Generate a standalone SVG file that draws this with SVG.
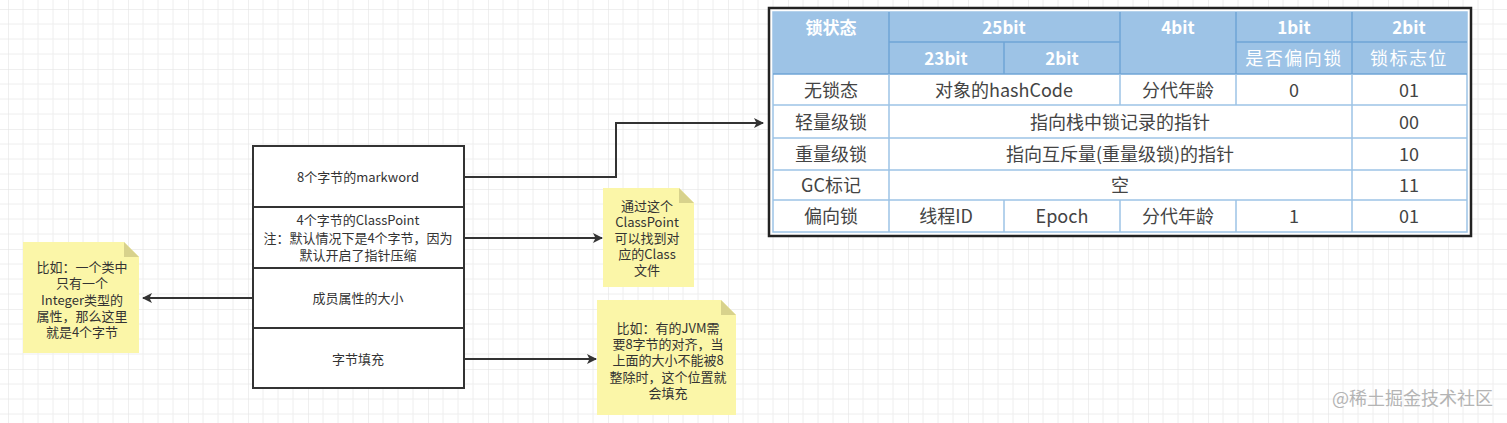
<svg xmlns="http://www.w3.org/2000/svg" width="1507" height="423" viewBox="0 0 1507 423">
<style>
.box{fill:#fff;stroke:#333;stroke-width:2}
.t{font-family:"Noto Sans CJK SC","Liberation Sans",sans-serif;fill:#333;text-anchor:middle}
.s13{font-size:13px}
.note{fill:#fbf6a8}
.fold{fill:#d8d28c}
.con{fill:none;stroke:#333;stroke-width:2}
.hd{font-family:"Noto Sans CJK SC","Liberation Sans",sans-serif;font-size:17px;font-weight:bold;fill:#fff;text-anchor:middle}
.hs{font-family:"Noto Sans CJK SC","Liberation Sans",serif;font-size:18px;fill:#fff;text-anchor:middle;letter-spacing:1.5px}
.td{font-family:"Noto Sans CJK SC","Liberation Sans",sans-serif;font-size:18px;fill:#444;text-anchor:middle}
.cl{stroke:#9dc3e6;stroke-width:1.5}
.hl{stroke:#6fa5d6;stroke-width:1.5}
</style>
<defs>
<pattern id="grid" patternUnits="userSpaceOnUse" x="8" y="9" width="60" height="60">
<path d="M15 0V60M30 0V60M45 0V60M0 15H60M0 30H60M0 45H60" stroke="#eeeeee" stroke-width="1" fill="none"/>
<path d="M0 0V60M0 0H60" stroke="#e0e0e0" stroke-width="1" fill="none"/>
</pattern>
<marker id="arr" viewBox="0 0 10 10" refX="9" refY="5" markerWidth="5" markerHeight="5" orient="auto" markerUnits="strokeWidth">
<path d="M0 0L10 5L0 10L2.5 5Z" fill="#333"/>
</marker>
</defs>
<rect width="1507" height="423" fill="#fff"/>
<rect width="1507" height="423" fill="url(#grid)"/>

<g id="connectors">
<path class="con" d="M464 177H616V123H763" marker-end="url(#arr)"/>
<path class="con" d="M464 238H602" marker-end="url(#arr)"/>
<path class="con" d="M253 298H143" marker-end="url(#arr)"/>
<path class="con" d="M464 359H596" marker-end="url(#arr)"/>
</g>

<g id="markword">
<rect class="box" x="253" y="146" width="211" height="61"/>
<text class="t s13" x="358" y="182">8个字节的markword</text>
</g>
<g id="classpoint">
<rect class="box" x="253" y="207" width="211" height="61"/>
<text class="t s13" x="358" y="225">4个字节的ClassPoint</text>
<text class="t s13" x="358" y="243">注：默认情况下是4个字节，因为</text>
<text class="t s13" x="358" y="260">默认开启了指针压缩</text>
</g>
<g id="members">
<rect class="box" x="253" y="268" width="211" height="60"/>
<text class="t s13" x="358" y="303">成员属性的大小</text>
</g>
<g id="padding">
<rect class="box" x="253" y="328" width="211" height="60"/>
<text class="t s13" x="358" y="364">字节填充</text>
</g>

<g id="note-integer">
<path class="note" d="M23 242H124L139 257V353H23Z"/>
<path class="fold" d="M124 242L139 257H124Z"/>
<text class="t s13" x="82" y="272">比如：一个类中</text>
<text class="t s13" x="82" y="288">只有一个</text>
<text class="t s13" x="82" y="305">Integer类型的</text>
<text class="t s13" x="82" y="321">属性，那么这里</text>
<text class="t s13" x="82" y="337">就是4个字节</text>
</g>
<g id="note-classpoint">
<path class="note" d="M603 188H679L694 203V287H603Z"/>
<path class="fold" d="M679 188L694 203H679Z"/>
<text class="t s13" x="647" y="211">通过这个</text>
<text class="t s13" x="647" y="227">ClassPoint</text>
<text class="t s13" x="647" y="243">可以找到对</text>
<text class="t s13" x="647" y="259">应的Class</text>
<text class="t s13" x="647" y="275">文件</text>
</g>
<g id="note-padding">
<path class="note" d="M597 300H721L736 315V415H597Z"/>
<path class="fold" d="M721 300L736 315H721Z"/>
<text class="t s13" x="668" y="333">比如：有的JVM需</text>
<text class="t s13" x="668" y="349">要8字节的对齐，当</text>
<text class="t s13" x="668" y="365">上面的大小不能被8</text>
<text class="t s13" x="668" y="382">整除时，这个位置就</text>
<text class="t s13" x="668" y="398">会填充</text>
</g>

<g id="lock-table">
<rect x="769" y="8" width="702" height="228" fill="#fff" stroke="#222" stroke-width="2.5"/>
<rect x="773" y="12" width="694" height="62" fill="#9dc3e6"/>
<rect x="773" y="12" width="694" height="220" fill="none" stroke="#9dc3e6" stroke-width="1.5"/>
<line class="hl" x1="889" y1="42" x2="1120" y2="42"/>
<line class="hl" x1="1236" y1="42" x2="1467" y2="42"/>
<line class="hl" x1="773" y1="74" x2="1467" y2="74"/>
<line class="hl" x1="889" y1="12" x2="889" y2="74"/>
<line class="hl" x1="1004" y1="42" x2="1004" y2="74"/>
<line class="hl" x1="1120" y1="12" x2="1120" y2="74"/>
<line class="hl" x1="1236" y1="12" x2="1236" y2="74"/>
<line class="hl" x1="1352" y1="12" x2="1352" y2="74"/>
<line class="cl" x1="773" y1="105" x2="1467" y2="105"/>
<line class="cl" x1="773" y1="138" x2="1467" y2="138"/>
<line class="cl" x1="773" y1="170" x2="1467" y2="170"/>
<line class="cl" x1="773" y1="200" x2="1467" y2="200"/>
<line class="cl" x1="889" y1="74" x2="889" y2="232"/>
<line class="cl" x1="1352" y1="74" x2="1352" y2="232"/>
<line class="cl" x1="1120" y1="74" x2="1120" y2="105"/>
<line class="cl" x1="1236" y1="74" x2="1236" y2="105"/>
<line class="cl" x1="1004" y1="200" x2="1004" y2="232"/>
<line class="cl" x1="1120" y1="200" x2="1120" y2="232"/>
<line class="cl" x1="1236" y1="200" x2="1236" y2="232"/>
<text class="hd" x="831" y="34">锁状态</text>
<text class="hd" x="1004" y="34">25bit</text>
<text class="hd" x="1178" y="34">4bit</text>
<text class="hd" x="1294" y="34">1bit</text>
<text class="hd" x="1409" y="34">2bit</text>
<text class="hd" x="946" y="65">23bit</text>
<text class="hd" x="1062" y="65">2bit</text>
<text class="hs" x="1294" y="65">是否偏向锁</text>
<text class="hs" x="1409" y="65">锁标志位</text>
<text class="td" x="831" y="97">无锁态</text>
<text class="td" x="1004" y="97">对象的hashCode</text>
<text class="td" x="1178" y="97">分代年龄</text>
<text class="td" x="1294" y="97">0</text>
<text class="td" x="1409" y="97">01</text>
<text class="td" x="831" y="129">轻量级锁</text>
<text class="td" x="1120" y="129">指向栈中锁记录的指针</text>
<text class="td" x="1409" y="129">00</text>
<text class="td" x="831" y="161">重量级锁</text>
<text class="td" x="1120" y="161">指向互斥量(重量级锁)的指针</text>
<text class="td" x="1409" y="161">10</text>
<text class="td" x="831" y="192">GC标记</text>
<text class="td" x="1120" y="192">空</text>
<text class="td" x="1409" y="192">11</text>
<text class="td" x="831" y="223">偏向锁</text>
<text class="td" x="946" y="223">线程ID</text>
<text class="td" x="1062" y="223">Epoch</text>
<text class="td" x="1178" y="223">分代年龄</text>
<text class="td" x="1294" y="223">1</text>
<text class="td" x="1409" y="223">01</text>
</g>

<text x="1493" y="405" font-family="'Noto Sans CJK SC','Liberation Sans',sans-serif" font-size="18" fill="#b4b4b4" text-anchor="end">@稀土掘金技术社区</text>
</svg>
